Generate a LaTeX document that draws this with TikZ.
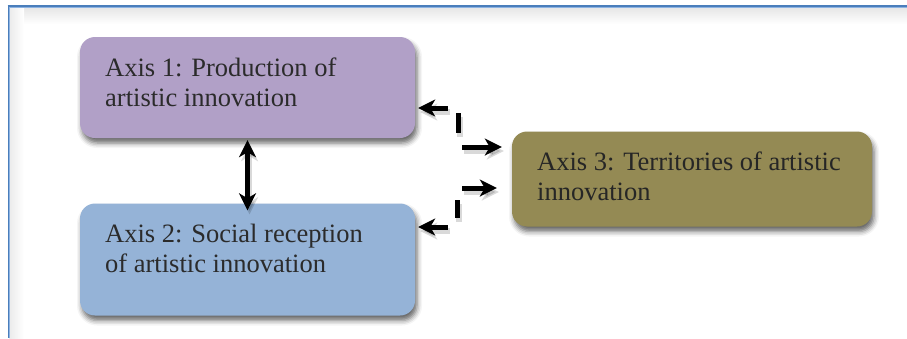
\documentclass[tikz,border=0pt]{standalone}
\usepackage{fontspec}
\setmainfont{Liberation Serif}
\usetikzlibrary{arrows.meta,shadows.blur,calc}
\definecolor{axisone}{HTML}{B1A0C7}
\definecolor{axistwo}{HTML}{95B3D7}
\definecolor{axisthree}{HTML}{948A54}
\definecolor{framedark}{HTML}{4A7EBB}
\definecolor{framelight}{HTML}{8DB3E2}
\definecolor{txt}{HTML}{2B2B2B}
\tikzset{
  axisbox/.style={draw=none, rounded corners=15pt, inner sep=0pt,
    blur shadow={shadow xshift=2pt, shadow yshift=-5pt, shadow blur radius=5pt, shadow opacity=60}},
  axistext/.style={anchor=base west, align=left, inner sep=0pt, text=txt,
    font=\fontsize{26.5}{29.5}\selectfont},
  dconn/.style={line width=5pt, {Stealth[length=17pt,width=17pt,inset=5pt]}-{Stealth[length=17pt,width=17pt,inset=5pt]}},
  shadowcopy/.style={preaction={draw=black, line width=5.5pt, opacity=0.15, transform canvas={shift={(2pt,-4pt)}}, #1}}
}
\begin{document}
\begin{tikzpicture}[x=1pt,y=-1pt]
\useasboundingbox (0,0) rectangle (907,338);
% frame
\shade[top color=black!10, bottom color=white] (9,7) rectangle (907,24);
\shade[left color=black!8, right color=white] (9,7) rectangle (24,338);
\draw[framelight, line width=1.2pt] (9,7.6) -- (907,7.6);
\draw[framelight, line width=1.2pt] (9.6,7) -- (9.6,338);
\draw[framedark, line width=1.4pt] (7.5,6) -- (907,6);
\draw[framedark, line width=1.4pt] (8.3,5.3) -- (8.3,338);
% boxes
\node[axisbox, fill=axisone, minimum width=335pt, minimum height=101pt] (b1) at (247.5,87.5) {};
\node[axisbox, fill=axistwo, minimum width=335pt, minimum height=112pt] (b2) at (247.5,259.5) {};
\node[axisbox, fill=axisthree, minimum width=360pt, minimum height=95pt] (b3) at (692,179) {};
\node[axistext] (t1) at (105,106) {Axis 1: Production of\\artistic innovation};
\node[axistext] (t2) at (105,272) {Axis 2: Social reception\\of artistic innovation};
\node[axistext, text=black!85] (t3) at (537,200) {Axis 3: Territories of artistic\\innovation};
% connectors
\coordinate (c1) at (458,108);
\coordinate (c2) at (458,147);
\coordinate (c3) at (457,188);
\coordinate (c4) at (457,227);
\draw[dconn, shadowcopy={dash pattern=on 19pt off 15pt on 20pt off 18pt on 40pt off 10pt},
      dash pattern=on 19pt off 15pt on 20pt off 18pt on 40pt off 10pt]
  ([xshift=3pt]b1.east |- c1) -- (c1) -- (c2) -- ([xshift=-10pt]b3.west |- c2);
\draw[dconn, shadowcopy={dash pattern=on 19pt off 18pt on 18pt off 17pt on 40pt off 10pt},
      dash pattern=on 19pt off 18pt on 18pt off 17pt on 40pt off 10pt]
  ([xshift=3pt]b2.east |- c4) -- (c4) -- (c3) -- ([xshift=-15pt]b3.west |- c3);
\draw[dconn, shadowcopy={}] ([yshift=-2pt]b1.south) -- ([yshift=-7pt]b2.north);
\end{tikzpicture}
\end{document}
